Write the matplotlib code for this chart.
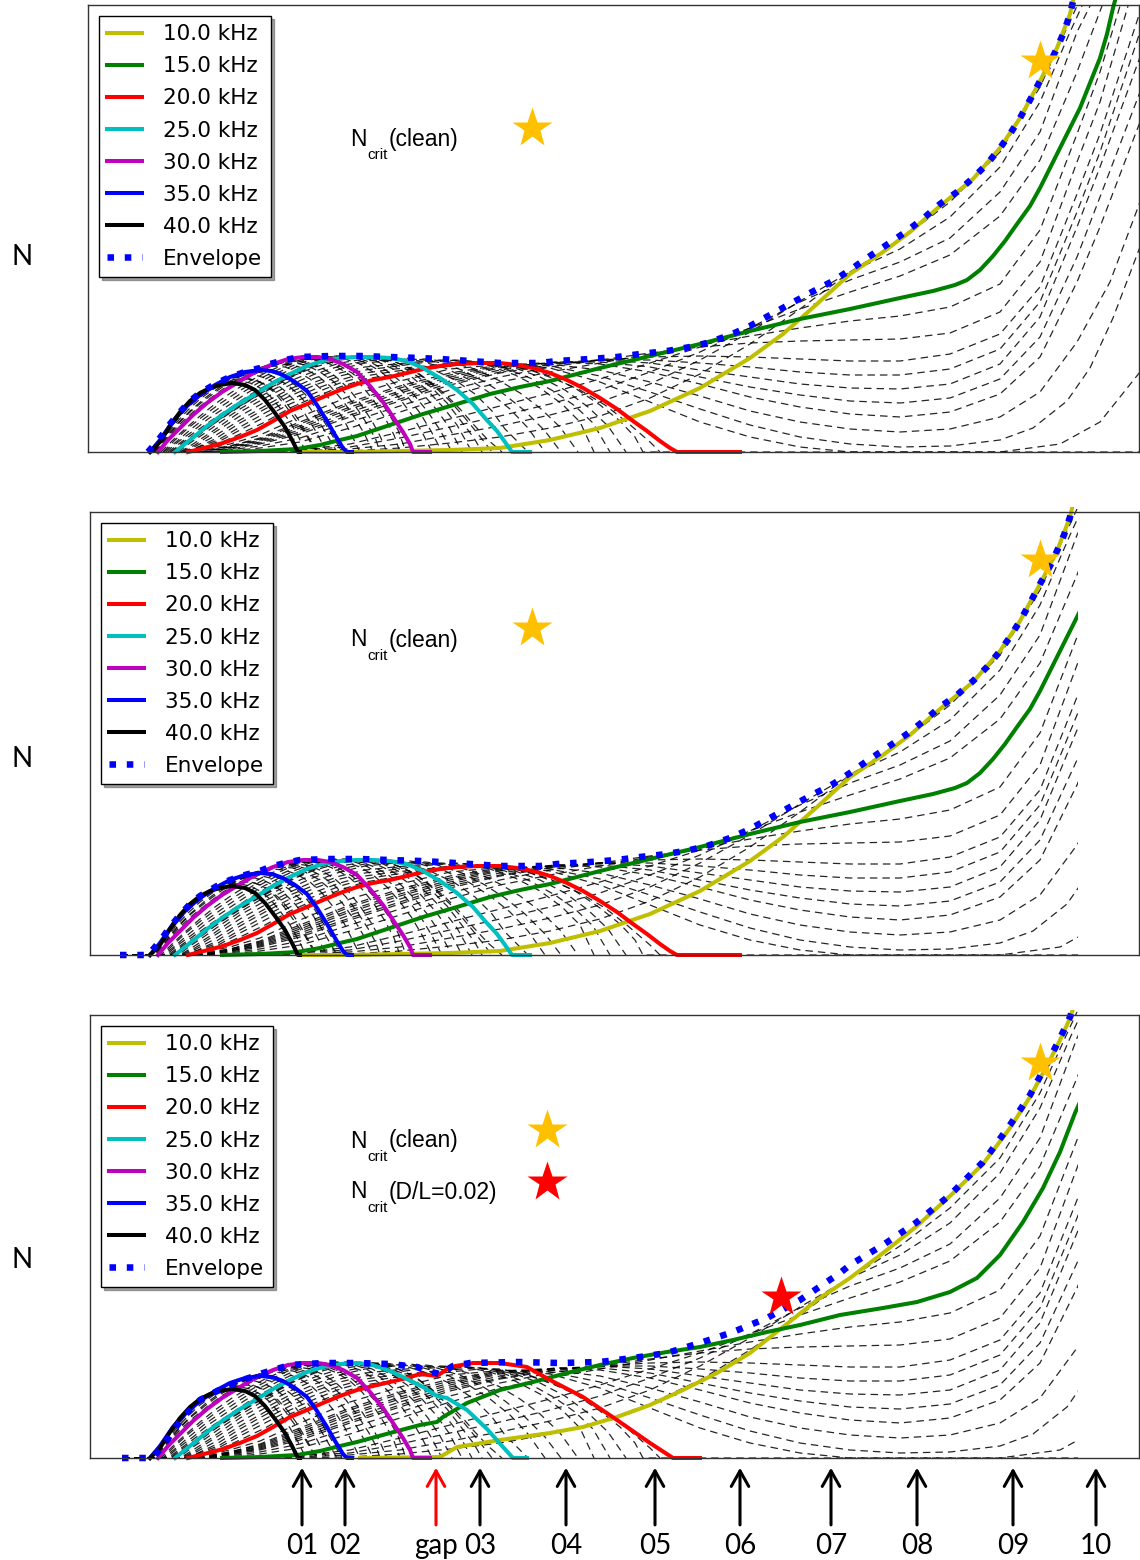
import numpy as np
import matplotlib.pyplot as plt
from matplotlib.patches import Rectangle

# -------- N-factor curves: (station, N) pairs --------

freq_labels = ['10.0 kHz', '15.0 kHz', '20.0 kHz', '25.0 kHz', '30.0 kHz', '35.0 kHz', '40.0 kHz']
freq_colors = ['y', 'g', 'r', 'c', 'm', 'b', 'k']

f40 = [(150,0),(160,10),(170,26),(180,40),(190,51),(200,59),(210,64),(220,67),(232,69),(245,67),(255,62),
       (265,52),(275,39),(285,25),(292,12),(298,0),(300,0)]
f35 = [(150,0),(160,12),(173,31),(187,46),(200,57),(215,67),(230,75),(245,80),(260,82),(272,81),(283,77),
       (295,70),(307,61),(317,47),(327,31),(335,17),(343,4),(347,0),(352,0)]
f30 = [(158,0),(168,12),(180,24),(193,37),(207,49),(222,60),(240,71),(257,81),(273,88),(288,93),(303,95),
       (318,95),(330,93),(343,88),(357,80),(370,66),(383,50),(393,35),(403,20),(410,8),(413,0),(430,0)]
f25 = [(175,0),(185,8),(195,16),(207,26),(222,37),(240,49),(257,59),(273,69),(290,78),(307,86),(323,91),
       (340,94),(357,95),(373,95),(390,94),(407,91),(423,84),(440,74),(457,62),(473,48),(485,34),(497,21),
       (505,10),(512,0),(530,0)]
f20 = [(188,0),(200,3),(212,6),(223,9),(240,15),(257,22),(273,31),(290,41),(307,48),(323,55),(340,62),
       (357,68),(373,72),(390,75),(407,79),(423,83),(440,86),(457,88),(480,89),(500,89),(517,87),(533,84),
       (550,79),(567,72),(583,64),(600,54),(617,43),(633,31),(647,21),(660,11),(670,4),(677,0),(740,0)]
f15 = [(222,0),(260,1),(297,3),(320,7),(340,12),(357,16),(390,27),(423,38),(457,48),(490,58),(520,65),
       (550,71),(600,84),(650,96),(700,108),(750,121),(800,133),(850,143),(900,154),(933,161),(955,167),
       (967,172),(980,182),(993,196),(1005,211),(1017,228),(1030,246),(1040,264),(1050,284),(1060,304),
       (1070,324),(1080,344),(1090,369),(1100,394),(1107,418),(1113,444),(1116,455)]
f10 = [(300,0),(350,0),(400,1),(450,2),(500,4),(550,12),(600,24),(650,41),(700,64),(750,94),(783,118),
       (817,148),(850,178),(883,200),(910,220),(940,246),(973,273),(1000,304),(1020,334),(1040,371),
       (1057,404),(1070,438),(1074,455)]
envelope = [(148,0),(155,8),(163,18),(170,28),(180,40),(190,51),(200,59),(217,69),(230,75),(245,80),
            (260,84),(270,88),(285,92),(300,95),(330,96),(360,96),(390,95),(420,94),(440,93),(470,91),
            (500,89),(540,89),(557,91),(590,93),(617,95),(640,98),(667,101),(690,105),(707,109),(730,117),
            (750,126),(770,137),(790,148),(810,159),(833,171),(850,182),(867,194),(885,206),(907,221),
            (925,235),(940,248),(957,260),(973,274),(987,288),(1000,304),(1010,318),(1020,334),(1030,352),
            (1040,371),(1050,389),(1057,404),(1064,420),(1070,438),(1074,455)]

# case with the gap: curves that change downstream of it
f25_gap = [(175,0),(185,8),(195,16),(207,26),(222,37),(240,49),(257,59),(273,69),(290,78),(307,86),
           (323,91),(340,94),(357,95),(373,93),(390,87),(407,79),(423,71),(437,62),(447,60),(467,48),
           (487,29),(503,11),(513,0),(527,0)]
f20_gap = [(188,0),(200,3),(212,6),(223,9),(240,15),(257,22),(273,31),(290,41),(307,48),(323,55),
           (340,62),(357,68),(373,72),(390,76),(407,80),(420,84),(437,82),(450,91),(473,95),(500,95),
           (527,91),(550,78),(583,61),(617,38),(650,15),(673,0),(700,0)]
f15_gap = [(222,0),(260,1),(297,3),(320,7),(340,12),(357,16),(390,25),(420,33),(437,36),(443,41),
           (467,55),(500,68),(533,76),(567,85),(600,93),(633,100),(667,106),(700,111),(733,118),(767,126),
           (800,133),(840,143),(883,150),(917,156),(950,166),(977,180),(1000,203),(1023,236),(1043,270),
           (1060,306),(1075,345),(1080,356)]
f10_gap = [(360,0),(440,1),(457,11),(500,18),(550,25),(583,31),(617,41),(650,53),(683,68),(717,85),
           (750,105),(783,131),(817,158),(850,180),(883,205),(917,232),(950,262),(983,294),(1010,330),
           (1030,361),(1050,398),(1063,424),(1070,440),(1074,452)]
envelope_gap = [(153,0),(167,18),(183,41),(200,58),(223,70),(243,78),(263,85),(290,93),(323,95),
                (357,95),(390,94),(417,91),(427,87),(440,84),(453,92),(470,95),(517,96),(560,95),
                (600,96),(633,100),(667,105),(700,115),(733,126),(767,140),(800,158),(840,185),(850,193),
                (883,213),(917,236),(950,263),(983,296),(1010,333),(1030,363),(1050,400),(1063,426),
                (1070,441),(1074,452)]

# intermediate frequencies (dashed), grouped by the band they fall in
band_40_35 = [
    [(150,0),(160,11),(170,26),(180,39),(190,50),(200,58),(215,66),(230,70),(240,71),(250,69),(260,64),
     (270,56),(280,44),(290,30),(298,16),(303,6),(307,0)],
    [(150,0),(161,11),(172,27),(184,42),(196,53),(210,62),(225,69),(238,72),(248,73),(258,71),(268,66),
     (278,58),(288,47),(298,33),(306,19),(313,7),(318,0)],
    [(150,0),(160,11),(170,26),(180,39),(190,50),(200,58),(215,67),(230,72),(245,74),(255,72),(265,67),
     (275,59),(285,47),(295,33),(305,19),(312,7),(317,0)],
    [(150,0),(162,12),(173,28),(187,44),(200,55),(215,66),(230,73),(245,77),(255,77),(265,74),(275,69),
     (285,61),(295,51),(305,38),(315,22),(322,9),(327,0)],
    [(150,0),(162,12),(174,29),(188,45),(201,56),(216,66),(232,74),(248,79),(262,81),(274,79),(285,74),
     (295,67),(305,58),(315,45),(325,29),(335,12),(342,0)],
    [(150,0),(162,12),(173,29),(187,45),(200,56),(215,66),(230,74),(245,79),(258,80),(270,77),(280,72),
     (290,65),(300,56),(310,44),(320,29),(330,12),(337,0)],
]
band_35_30 = [
    [(152,0),(163,12),(175,28),(188,42),(200,53),(215,64),(230,73),(245,80),(260,84),(272,86),(285,85),
     (298,80),(310,73),(322,62),(335,46),(345,30),(353,14),(360,0)],
    [(153,0),(164,12),(177,28),(190,41),(205,54),(220,65),(235,74),(250,81),(265,86),(280,88),(293,87),
     (305,83),(318,76),(330,66),(343,51),(355,34),(365,17),(373,0)],
    [(154,0),(165,12),(178,28),(191,41),(206,53),(221,64),(237,74),(252,81),(267,86),(282,89),(296,89),
     (308,86),(320,80),(333,71),(346,58),(358,42),(369,25),(376,12),(380,0)],
    [(155,0),(166,12),(179,27),(193,40),(208,52),(223,63),(240,73),(255,81),(270,87),(285,90),(298,91),
     (310,89),(322,84),(335,76),(348,64),(360,49),(372,31),(380,16),(387,0)],
    [(156,0),(167,12),(180,25),(195,39),(210,51),(225,62),(242,72),(258,80),(273,87),(288,91),(300,93),
     (313,93),(325,90),(337,85),(350,77),(362,66),(374,51),(385,34),(394,17),(400,0)],
    [(157,0),(168,12),(181,25),(196,39),(211,51),(226,62),(243,72),(259,80),(274,87),(289,91),(302,93),
     (316,93),(328,91),(340,86),(352,79),(365,68),(378,54),(389,38),(398,22),(406,0)],
]
band_30_25 = [
    [(161,0),(172,11),(185,23),(200,36),(215,48),(232,60),(250,71),(267,80),(283,87),(300,92),(315,95),
     (330,95),(345,93),(360,88),(373,80),(387,68),(400,53),(412,37),(422,20),(432,0)],
    [(163,0),(174,11),(187,23),(202,35),(218,47),(236,59),(254,70),(271,79),(288,87),(305,92),(321,95),
     (337,96),(352,94),(366,89),(380,81),(393,70),(407,56),(420,39),(431,21),(442,0)],
    [(164,0),(176,10),(190,22),(205,34),(222,46),(240,58),(258,69),(275,78),(292,86),(310,92),(327,95),
     (343,96),(358,94),(372,89),(387,81),(400,71),(414,57),(428,40),(440,22),(452,0)],
    [(166,0),(178,10),(193,21),(208,33),(226,45),(244,57),(262,68),(279,77),(296,85),(314,91),(331,95),
     (348,96),(363,95),(378,90),(393,83),(407,73),(421,60),(436,43),(449,25),(462,0)],
    [(168,0),(180,9),(195,20),(212,32),(230,44),(248,56),(265,66),(283,76),(300,84),(318,90),(335,94),
     (352,96),(368,95),(383,91),(398,84),(413,74),(428,61),(443,45),(457,27),(472,0)],
    [(170,0),(182,9),(197,19),(214,31),(232,43),(250,55),(268,65),(286,75),(303,83),(320,89),(338,94),
     (355,96),(370,95),(386,91),(402,85),(417,76),(432,64),(447,49),(461,31),(474,14),(482,0)],
    [(171,0),(183,8),(198,18),(215,29),(233,41),(252,53),(270,63),(288,73),(305,82),(323,89),(340,93),
     (357,95),(373,95),(390,92),(405,86),(420,77),(435,65),(450,51),(465,34),(478,18),(492,0)],
    [(173,0),(184,8),(196,17),(211,28),(228,39),(246,51),(264,61),(281,71),(298,80),(315,87),(332,92),
     (349,95),(365,95),(382,94),(398,89),(414,82),(429,71),(445,58),(460,43),(474,27),(488,12),(502,0)],
]
band_25_20 = [
    [(177,0),(188,9),(203,20),(220,33),(240,46),(265,61),(290,75),(315,85),(340,92),(365,95),(383,95),
     (405,92),(430,84),(455,72),(475,58),(492,41),(505,23),(520,8),(528,0)],
    [(178,0),(190,9),(205,19),(222,31),(240,43),(265,58),(290,71),(315,81),(340,89),(365,93),(395,94),
     (420,91),(445,84),(470,72),(490,59),(510,43),(528,24),(545,0)],
    [(180,0),(193,8),(210,19),(240,40),(265,54),(290,67),(315,78),(340,86),(365,91),(395,93),(410,94),
     (437,90),(462,82),(485,70),(505,57),(525,41),(545,21),(561,0)],
    [(181,0),(195,7),(212,18),(240,36),(265,50),(290,63),(315,74),(340,83),(365,89),(395,92),(425,93),
     (450,90),(475,83),(500,71),(520,59),(540,44),(560,25),(578,0)],
    [(183,0),(196,6),(213,15),(240,32),(265,46),(290,60),(315,70),(340,79),(365,85),(395,88),(440,92),
     (465,91),(490,86),(515,77),(540,64),(562,48),(580,30),(594,0)],
    [(184,0),(198,5),(215,13),(240,29),(265,43),(290,56),(315,67),(340,76),(365,82),(390,85),(420,89),
     (455,92),(480,90),(505,84),(530,74),(555,60),(575,46),(593,29),(610,0)],
    [(185,0),(199,5),(218,12),(240,25),(265,39),(290,52),(315,63),(340,72),(365,79),(395,83),(435,87),
     (465,91),(490,89),(515,84),(540,75),(565,62),(588,45),(608,26),(626,0)],
    [(186,0),(200,4),(220,11),(240,22),(265,35),(290,48),(315,59),(340,69),(365,76),(390,80),(420,84),
     (450,88),(475,90),(500,89),(525,84),(550,76),(575,64),(600,47),(620,31),(635,15),(643,0),(1140,0)],
    [(187,0),(200,3),(220,9),(240,18),(265,30),(290,44),(315,55),(340,65),(365,73),(390,77),(420,82),
     (450,86),(480,89),(505,88),(530,82),(555,73),(580,62),(605,47),(628,29),(650,10),(660,0)],
]
band_20_15 = [
    [(190,0),(230,8),(260,17),(300,35),(350,56),(400,71),(450,83),(505,88),(550,84),(600,70),(650,50),
     (700,30),(750,15),(800,5),(850,0),(1000,0),(1060,8),(1100,30),(1140,80)],
    [(193,0),(230,6),(260,14),(300,30),(350,50),(400,66),(450,79),(500,87),(520,88),(550,86),(600,76),
     (650,60),(700,43),(750,27),(800,15),(850,8),(900,5),(950,6),(1000,12),(1033,24),(1067,51),(1090,84),
     (1113,134),(1140,205)],
    [(195,0),(230,6),(260,13),(300,28),(350,48),(400,64),(450,77),(500,86),(540,89),(600,82),(650,70),
     (700,56),(750,41),(800,30),(850,23),(900,20),(950,23),(1000,35),(1040,60),(1077,110),(1110,170),
     (1140,250)],
    [(198,0),(230,5),(260,12),(300,26),(350,45),(400,61),(450,75),(500,85),(560,90),(600,88),(650,80),
     (700,68),(750,55),(800,45),(850,38),(900,35),(950,40),(1000,58),(1040,95),(1077,170),(1100,225),
     (1140,330)],
    [(200,0),(230,5),(260,11),(300,24),(350,43),(400,59),(450,73),(500,84),(555,90),(600,90),(650,85),
     (700,75),(750,65),(800,57),(850,51),(900,49),(950,54),(1000,73),(1040,115),(1077,195),(1100,255),
     (1140,360)],
    [(203,0),(230,4),(260,10),(300,22),(350,40),(400,56),(450,71),(500,82),(550,89),(600,92),(650,89),
     (700,82),(750,75),(800,68),(850,64),(900,63),(950,68),(1000,88),(1040,135),(1077,225),(1100,285),
     (1140,395)],
    [(205,0),(230,4),(260,9),(300,20),(350,37),(400,53),(450,69),(500,80),(550,88),(600,92),(650,92),
     (700,89),(750,85),(800,80),(850,77),(900,77),(950,83),(1000,103),(1040,150),(1077,240),(1100,300),
     (1140,420)],
    [(208,0),(230,3),(260,8),(300,18),(350,35),(400,51),(450,67),(500,79),(550,87),(600,92),(650,95),
     (700,96),(750,95),(800,93),(850,91),(900,91),(950,98),(1000,118),(1040,165),(1077,258),(1100,318),
     (1140,440)],
    [(213,0),(260,6),(300,14),(350,30),(400,46),(450,62),(500,75),(550,85),(600,92),(650,99),(700,105),
     (750,109),(800,111),(850,112),(900,113),(950,119),(1000,140),(1040,190),(1077,290),(1100,350),
     (1128,446)],
    [(218,0),(260,4),(300,10),(350,24),(400,40),(450,56),(500,70),(550,80),(600,89),(650,98),(700,107),
     (750,116),(800,124),(850,131),(900,136),(950,145),(1000,168),(1040,222),(1077,318),(1100,380),
     (1120,446)],
]
band_15_10 = [
    [(235,0),(300,2),(350,8),(400,20),(450,33),(500,46),(550,59),(600,73),(650,89),(700,105),(750,124),
     (800,143),(850,160),(900,176),(950,197),(1000,236),(1040,292),(1077,380),(1102,446)],
    [(250,0),(350,5),(400,14),(450,25),(500,36),(550,48),(600,62),(650,80),(700,100),(750,124),(800,150),
     (850,172),(900,190),(950,214),(1000,260),(1040,320),(1077,420),(1090,446)],
    [(265,0),(350,3),(400,8),(450,17),(500,26),(550,37),(600,50),(650,68),(700,92),(750,120),(800,151),
     (850,180),(900,203),(950,235),(1000,285),(1040,350),(1070,420),(1082,446)],
    [(280,0),(350,1),(400,4),(450,9),(500,15),(550,24),(600,36),(650,54),(700,78),(750,108),(800,143),
     (850,180),(900,212),(950,250),(1000,300),(1040,365),(1065,420),(1077,446)],
]

# critical N markers
star_clean = [(1040, 391), (1040, 395), (1040, 395)]
star_key_clean = [(532, 324), (532, 327), (547, 328)]
star_key_rough = (547, 276)
star_rough = (781, 161)
label_clean_n = [313, 315, 317]
label_rough_n = 266

# station marks under the last panel
mark_x = [302, 345, 436, 480, 566, 655, 740, 831, 917, 1013, 1096]
mark_labels = ['01', '02', 'gap', '03', '04', '05', '06', '07', '08', '09', '10']
mark_colors = ['k', 'k', 'r', 'k', 'k', 'k', 'k', 'k', 'k', 'k', 'k']

# -------- Layout (canvas px) --------
W, H = 1140, 1560
panel_left = [88, 90, 90]
panel_top = [5, 512, 1015]
panel_bottom = [452, 955, 1458]
panel_lead = [None, 120, 122]
panel_stop = [1140, 1078, 1078]
n_label_y = [257, 759, 1260]

dashed = band_40_35 + band_35_30 + band_30_25 + band_25_20 + band_20_15 + band_15_10
base_set = [f10, f15, f20, f25, f30, f35, f40]
gap_set = [f10_gap, f15_gap, f20_gap, f25_gap, f30, f35, f40]
panel_sets = [base_set, base_set, gap_set]
panel_env = [envelope, envelope, envelope_gap]


def xy(pts, lead=None):
    a = np.array(pts, float)
    x, n = a[:, 0], a[:, 1]
    if lead is not None:
        x = np.r_[lead, x]
        n = np.r_[0.0, n]
    return x, n


def ncrit_label(ax, y, tail):
    ax.text(350, y, 'N', fontsize=16.5, family='Liberation Sans', va='center')
    ax.text(367, y - 16, 'crit', fontsize=11, family='Liberation Sans', va='center')
    ax.text(389, y, tail, fontsize=16.5, family='Liberation Sans', va='center')


fig = plt.figure(figsize=(W / 100, H / 100), dpi=100)
axes = []
for i in range(3):
    L, T, B = panel_left[i], panel_top[i], panel_bottom[i]
    ax = fig.add_axes([L / W, 1 - B / H, (1139 - L) / W, (B - T) / H])
    ax.set_xlim(L, 1139)
    ax.set_ylim(0, B - T)
    ax.set_xticks([])
    ax.set_yticks([])
    for s in ax.spines.values():
        s.set_color('#333333')
        s.set_linewidth(1.0)
    clip = Rectangle((L, -5), panel_stop[i] - L, B - T + 10, transform=ax.transData)
    lead = panel_lead[i]

    for d in dashed:
        x, n = xy(d, lead)
        ln, = ax.plot(x, n, color='k', lw=0.9, ls=(0, (6, 4)), alpha=0.85)
        ln.set_clip_path(clip)

    for pts, c, lab in zip(panel_sets[i], freq_colors, freq_labels):
        x, n = xy(pts)
        ln, = ax.plot(x, n, color=c, lw=2.9, label=lab)
        ln.set_clip_path(clip)

    x, n = xy(panel_env[i], lead)
    ln, = ax.plot(x, n, color='b', lw=4.7, ls=':', label='Envelope')
    ln.set_clip_path(clip)

    ax.legend(loc='upper left', fontsize=15.5, handlelength=1.6, handletextpad=1.0,
              labelspacing=0.56, borderaxespad=0.5, fancybox=False, shadow=True,
              edgecolor='k', framealpha=1)

    ax.plot(*star_clean[i], marker='*', ms=30, color='#FFC000', mec='none', ls='none', zorder=6)
    ax.plot(*star_key_clean[i], marker='*', ms=30, color='#FFC000', mec='none', ls='none', zorder=6)
    ncrit_label(ax, label_clean_n[i], '(clean)')

    fig.text(22 / W, 1 - n_label_y[i] / H, 'N', fontsize=20, family='Lato', ha='center', va='center')
    axes.append(ax)

ax3 = axes[2]
ax3.plot(*star_key_rough, marker='*', ms=30, color='r', mec='none', ls='none', zorder=6)
ax3.plot(*star_rough, marker='*', ms=30, color='r', mec='none', ls='none', zorder=6)
ncrit_label(ax3, label_rough_n, '(D/L=0.02)')

tr = ax3.get_xaxis_transform()
for xm, lab, col in zip(mark_x, mark_labels, mark_colors):
    ax3.annotate('', xy=(xm, -0.022), xytext=(xm, -0.151), xycoords=tr, textcoords=tr,
                 arrowprops=dict(arrowstyle='->,head_length=0.8,head_width=0.45', lw=2.2,
                                 color=col, shrinkA=0, shrinkB=0, mutation_scale=14))
    ax3.text(xm, -0.217, lab, transform=tr, ha='center', va='baseline', fontsize=20, family='Lato')

fig.savefig('out.png', dpi=100)
